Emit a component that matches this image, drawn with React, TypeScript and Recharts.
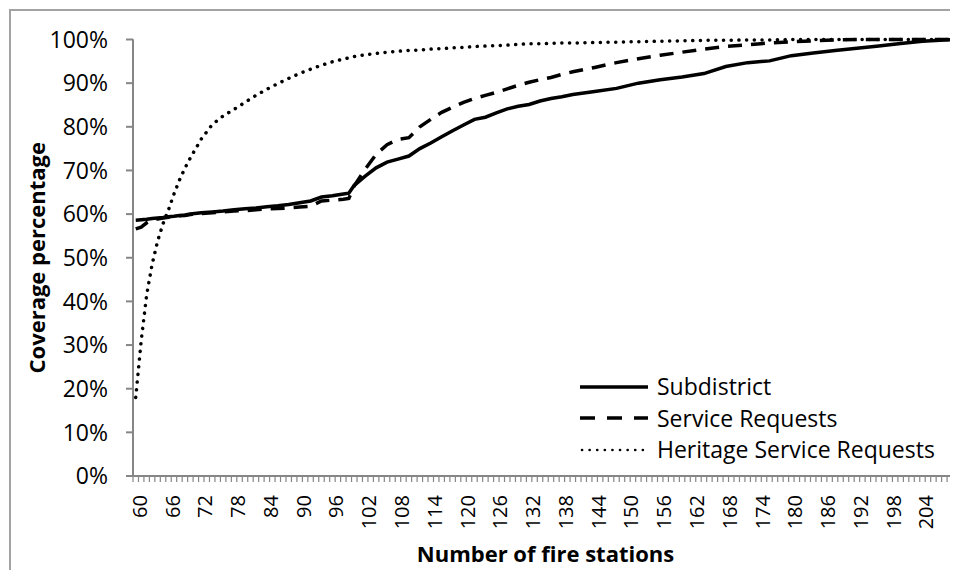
import { LineChart, Line, XAxis, YAxis, Legend, ReferenceLine } from "recharts";

// Number of fire stations (x) and coverage in % for each scenario
const stations = [
  60, 61, 62, 63, 64, 65, 66, 67, 68, 69, 70,
  72, 74, 76, 78, 80, 82, 84, 86, 88, 90, 92, 94, 96, 98, 99,
  100, 102, 104, 106, 108, 110, 112, 114, 116, 118, 120, 122, 124, 126, 128, 130, 132, 134, 136, 138, 140,
  144, 148, 152, 156, 160, 164, 168, 172, 176, 180, 184, 188, 192, 196, 200, 204, 208, 210,
];

const subdistrict = [
  58.6, 58.7, 58.8, 59.0, 59.1, 59.2, 59.4, 59.5, 59.7, 59.8, 60.0,
  60.3, 60.5, 60.7, 61.0, 61.2, 61.4, 61.7, 61.9, 62.2, 62.6, 63.0, 63.9, 64.2, 64.6, 64.8,
  66.6, 68.7, 70.6, 71.9, 72.6, 73.3, 75.0, 76.3, 77.7, 79.1, 80.4, 81.7, 82.2, 83.2, 84.1, 84.7, 85.1, 85.9, 86.5, 86.9, 87.4,
  88.1, 88.8, 90.0, 90.8, 91.4, 92.2, 93.8, 94.7, 95.1, 96.3, 96.9, 97.5, 98.0, 98.5, 99.1, 99.6, 99.9, 100,
];

const serviceRequests = [
  56.6, 57.0, 58.0, 58.6, 58.9, 59.1, 59.3, 59.4, 59.6, 59.7, 59.9,
  60.1, 60.3, 60.5, 60.7, 60.8, 61.0, 61.2, 61.3, 61.4, 61.6, 61.8, 63.0, 63.2, 63.4, 63.6,
  66.5, 70.3, 73.7, 75.9, 77.1, 77.5, 80.0, 81.7, 83.3, 84.5, 85.6, 86.5, 87.2, 87.9, 88.7, 89.5, 90.2, 90.8, 91.3, 92.0, 92.6,
  93.6, 94.7, 95.6, 96.4, 97.1, 97.8, 98.4, 98.8, 99.2, 99.5, 99.7, 99.9, 100, 100, 100, 100, 100, 100,
];

const heritageRequests = [
  18.0, 31.0, 41.5, 48.5, 53.8, 57.8, 61.0, 64.6, 67.8, 70.5, 72.9,
  77.2, 80.5, 82.5, 84.0, 85.6, 87.2, 88.6, 89.9, 91.1, 92.2, 93.2, 94.1, 94.9, 95.5, 95.8,
  96.1, 96.5, 96.8, 97.1, 97.3, 97.5, 97.6, 97.8, 97.9, 98.1, 98.2, 98.4, 98.5, 98.6, 98.7, 98.9, 99.0, 99.0, 99.1, 99.2, 99.2,
  99.3, 99.4, 99.5, 99.6, 99.7, 99.8, 99.8, 99.9, 99.9, 100, 100, 100, 100, 100, 100, 100, 100, 100,
];

const stationTicks = [60, 66, 72, 78, 84, 90, 96, 102, 108, 114, 120, 126, 132, 138, 144, 150, 156, 162, 168, 174, 180, 186, 192, 198, 204];
const percentTicks = [0, 10, 20, 30, 40, 50, 60, 70, 80, 90, 100];

const firstStation = stations[0];
const lastStation = stations[stations.length - 1];
const xDomain = [firstStation - 0.5, lastStation + 0.5];
// excel-style category axis: tick marks sit between categories
const categoryEdges = Array.from({ length: lastStation - firstStation + 2 }, (_, i) => firstStation - 0.5 + i);

const data = stations.map((n, i) => ({
  n,
  subdistrict: subdistrict[i],
  service: serviceRequests[i],
  heritage: heritageRequests[i],
}));

const CHART_W = 947;
const CHART_H = 559;
const Y_AXIS_W = 122;
const X_AXIS_H = 94;
const halfCategory = (CHART_W - Y_AXIS_W) / (xDomain[1] - xDomain[0]) / 2;

const FONT = '"Open Sans", sans-serif';
const AXIS_GREY = "#868686";

const seriesOrder = ["subdistrict", "service", "heritage"];
const legendLine: Record<string, { width: number; dash?: string; cap?: "round" | "butt" }> = {
  subdistrict: { width: 3.5 },
  service: { width: 3.5, dash: "15 12" },
  heritage: { width: 2.6, dash: "0.1 7.5", cap: "round" },
};

// labels only on every 6th category, drawn at the category centre
function StationTick(props: any) {
  const { x, y, payload } = props;
  const station = payload.value + 0.5;
  if (!stationTicks.includes(station)) return null;
  const cx = x + halfCategory;
  return (
    <text
      x={cx}
      y={y}
      transform={`rotate(-90 ${cx} ${y})`}
      dx={-13}
      dy="0.55em"
      textAnchor="end"
      fill="#000"
      fontSize={20}
      fontFamily={FONT}
    >
      {station}
    </text>
  );
}

function yTitle(props: any) {
  const { viewBox } = props;
  const cx = 25;
  const cy = viewBox.y + viewBox.height / 2;
  return (
    <text
      x={cx}
      y={cy}
      transform={`rotate(-90 ${cx} ${cy})`}
      textAnchor="middle"
      dominantBaseline="central"
      fontSize={22}
      fontWeight="bold"
      fontFamily={FONT}
      fill="#000"
    >
      Coverage percentage
    </text>
  );
}

function xTitle(props: any) {
  const { viewBox } = props;
  return (
    <text
      x={viewBox.x + viewBox.width / 2}
      y={viewBox.y + 86}
      textAnchor="middle"
      fontSize={22}
      fontWeight="bold"
      fontFamily={FONT}
      fill="#000"
    >
      Number of fire stations
    </text>
  );
}

function renderLegend(props: any) {
  const items = [...(props.payload || [])].sort(
    (a: any, b: any) => seriesOrder.indexOf(a.dataKey) - seriesOrder.indexOf(b.dataKey)
  );
  return (
    <div style={{ fontFamily: FONT, fontSize: 23, color: "#000" }}>
      {items.map((entry: any) => {
        const s = legendLine[entry.dataKey];
        return (
          <div key={entry.dataKey} style={{ display: "flex", alignItems: "center", height: 31.5 }}>
            <svg width={68} height={10} style={{ display: "block" }}>
              <line
                x1={s.cap === "round" ? 2 : 0}
                x2={68}
                y1={5}
                y2={5}
                stroke="#000"
                strokeWidth={s.width}
                strokeDasharray={s.dash}
                strokeLinecap={s.cap || "butt"}
              />
            </svg>
            <span style={{ marginLeft: 9, lineHeight: 1, whiteSpace: "nowrap" }}>{entry.value}</span>
          </div>
        );
      })}
    </div>
  );
}

export default function App() {
  return (
    <div
      style={{
        width: 949,
        height: 562,
        overflow: "hidden",
        paddingLeft: 1,
        paddingTop: 1,
        boxSizing: "border-box",
        background: "#fff",
      }}
    >
      <div style={{ borderLeft: "2px solid #a3a3a3", borderTop: "2px solid #a3a3a3", width: 1000, height: 600 }}>
        <LineChart width={CHART_W} height={CHART_H} data={data} margin={{ top: 28.5, right: 0, bottom: 0, left: 0 }}>
          <XAxis
            xAxisId="main"
            dataKey="n"
            type="number"
            domain={xDomain}
            ticks={categoryEdges}
            interval={0}
            height={X_AXIS_H}
            stroke={AXIS_GREY}
            strokeWidth={2}
            axisLine
            tickLine={{ stroke: AXIS_GREY, strokeWidth: 1.2 }}
            tickSize={6}
            tickMargin={0}
            tick={<StationTick />}
            label={xTitle}
          />
          <YAxis
            type="number"
            domain={[0, 100]}
            ticks={percentTicks}
            interval={0}
            width={Y_AXIS_W}
            tickFormatter={(v: number) => `${v}%`}
            stroke={AXIS_GREY}
            strokeWidth={2}
            axisLine
            tickLine
            tickSize={7}
            tickMargin={18}
            tick={{ fill: "#000", fontSize: 23, fontFamily: FONT }}
            label={yTitle}
          />
          <ReferenceLine xAxisId="main" x={xDomain[0]} stroke={AXIS_GREY} strokeWidth={2} />
          <ReferenceLine xAxisId="main" y={0} stroke={AXIS_GREY} strokeWidth={2} />
          <Line
            xAxisId="main"
            type="linear"
            dataKey="subdistrict"
            name="Subdistrict"
            stroke="#000"
            strokeWidth={3.5}
            dot={false}
            isAnimationActive={false}
          />
          <Line
            xAxisId="main"
            type="linear"
            dataKey="service"
            name="Service Requests"
            stroke="#000"
            strokeWidth={3.5}
            strokeDasharray="14 9"
            dot={false}
            isAnimationActive={false}
          />
          <Line
            xAxisId="main"
            type="linear"
            dataKey="heritage"
            name="Heritage Service Requests"
            stroke="#000"
            strokeWidth={3.5}
            strokeDasharray="0.1 7.6"
            strokeLinecap="round"
            dot={false}
            isAnimationActive={false}
          />
          <Legend
            layout="vertical"
            align="center"
            verticalAlign="middle"
            content={renderLegend}
            wrapperStyle={{ left: 569, top: 360, width: 370, right: "auto", bottom: "auto" }}
          />
        </LineChart>
      </div>
    </div>
  );
}
